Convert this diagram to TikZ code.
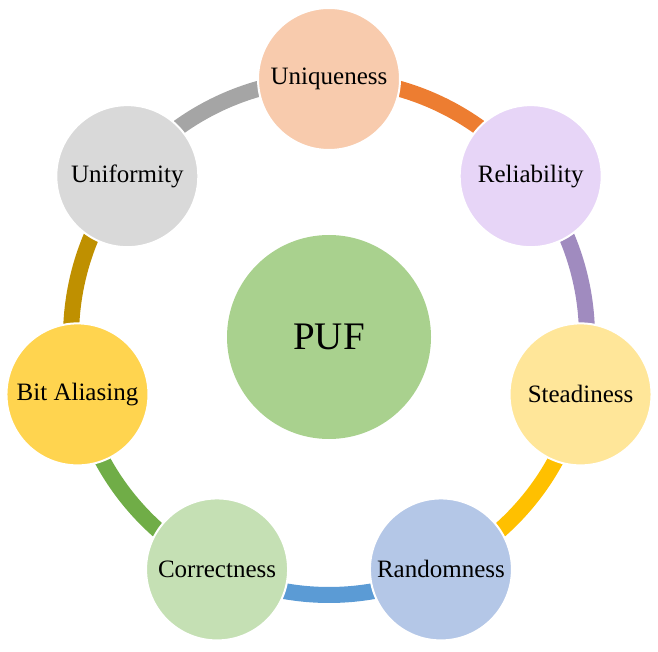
\documentclass[tikz,border=0pt]{standalone}
\usepackage{fontspec}
\setmainfont{Liberation Serif}
\usepackage{xcolor}
\usepackage{tikz}
\usetikzlibrary{positioning}
\pgfdeclarelayer{bg}
\pgfsetlayers{bg,main}
\definecolor{uniqfill}{HTML}{F8CBAD}
\definecolor{relifill}{HTML}{E7D5F7}
\definecolor{steadfill}{HTML}{FFE699}
\definecolor{randfill}{HTML}{B4C7E7}
\definecolor{corrfill}{HTML}{C5E0B4}
\definecolor{bitafill}{HTML}{FFD44F}
\definecolor{uniffill}{HTML}{D9D9D9}
\definecolor{puffill}{HTML}{A9D18E}
\definecolor{orangec}{HTML}{ED7D31}
\definecolor{purplec}{HTML}{A08BBF}
\definecolor{goldc}{HTML}{FFC000}
\definecolor{bluec}{HTML}{5B9BD5}
\definecolor{greenc}{HTML}{70AD47}
\definecolor{darkgoldc}{HTML}{BF9000}
\definecolor{grayc}{HTML}{A5A5A5}
\tikzset{
  propnode/.style={circle, draw=white, line width=2pt, minimum size=142pt,
    inner sep=0pt, font=\fontsize{25}{30}\selectfont, align=center},
  centernode/.style={propnode, minimum size=204pt, draw=none,
    font=\fontsize{39}{46}\selectfont, fill=puffill},
  ringedge/.style={draw=#1, line width=16pt},
}

\begin{document}
\begin{tikzpicture}[x=1pt, y=1pt]
  \useasboundingbox (0,0) rectangle (658,651);
  \begin{scope}[shift={(329,314)}]
    \node[centernode] (puf) at (0,0) {PUF};
    \node[propnode, fill=uniqfill] (uniq) at (90:258) {Uniqueness};
    \node[propnode, fill=relifill] (reli) at (38.571:258) {Reliability};
    \node[propnode, fill=steadfill] (stead) at (-12.857:258) {Steadiness};
    \node[propnode, fill=randfill] (rand) at (-64.286:258) {Randomness};
    \node[propnode, fill=corrfill] (corr) at (-115.714:258) {Correctness};
    \node[propnode, fill=bitafill] (bita) at (-167.143:258) {Bit Aliasing};
    \node[propnode, fill=uniffill] (unif) at (141.429:258) {Uniformity};
  \end{scope}
  % ring segments behind the circles
  \begin{pgfonlayer}{bg}
    \draw[ringedge=orangec] (uniq.center) arc[start angle=90, end angle=38.571, radius=258];
    \draw[ringedge=purplec] (reli.center) arc[start angle=38.571, end angle=-12.857, radius=258];
    \draw[ringedge=goldc] (stead.center) arc[start angle=-12.857, end angle=-64.286, radius=258];
    \draw[ringedge=bluec] (rand.center) arc[start angle=-64.286, end angle=-115.714, radius=258];
    \draw[ringedge=greenc] (corr.center) arc[start angle=-115.714, end angle=-167.143, radius=258];
    \draw[ringedge=darkgoldc] (bita.center) arc[start angle=-167.143, end angle=-218.571, radius=258];
    \draw[ringedge=grayc] (unif.center) arc[start angle=141.429, end angle=90, radius=258];
  \end{pgfonlayer}
\end{tikzpicture}
\end{document}
